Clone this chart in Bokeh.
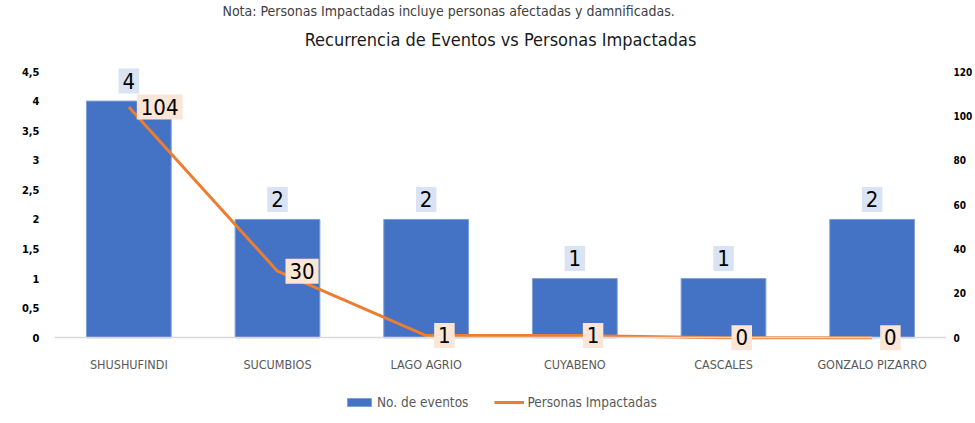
from bokeh.plotting import figure
from bokeh.models import (ColumnDataSource, FactorRange, Range1d, LinearAxis,
                          FixedTicker, LabelSet, Legend, LegendItem, Title)
from bokeh.core.properties import value
from bokeh.embed import file_html
from bokeh.resources import INLINE

municipios = ["SHUSHUFINDI", "SUCUMBIOS", "LAGO AGRIO", "CUYABENO", "CASCALES", "GONZALO PIZARRO"]
eventos = [4, 2, 2, 1, 1, 2]
personas = [104, 30, 1, 1, 0, 0]
left_ticks = [0, 0.5, 1, 1.5, 2, 2.5, 3, 3.5, 4, 4.5]
left_labels = ["0", "0,5", "1", "1,5", "2", "2,5", "3", "3,5", "4", "4,5"]
right_ticks = [0, 20, 40, 60, 80, 100, 120]

FONT = "DejaVu Sans Condensed"
BLUE = "#4472c4"
ORANGE = "#ed7d31"
PAD = "\u2009"

src = ColumnDataSource(dict(
    m=municipios, e=eventos, p=personas,
    e_txt=[PAD + str(v) + PAD for v in eventos],
    p_txt=[PAD + str(v) + PAD for v in personas],
))

LEFT_MAX = 4.5
RIGHT_MAX = 120
FRAME_H = 358
PX_PER_UNIT = 59.16
hi = 4.72
lo = hi - FRAME_H / PX_PER_UNIT
scale = RIGHT_MAX / LEFT_MAX

p = figure(x_range=FactorRange(*municipios), y_range=Range1d(lo, hi),
           frame_width=892, frame_height=FRAME_H,
           output_backend="svg", toolbar_location=None,
           min_border_left=54, min_border_right=4, min_border_top=56,
           min_border_bottom=0, outline_line_color=None,
           title="Nota:  Personas Impactadas incluye personas afectadas y damnificadas.")
p.title.align = "left"
p.title.offset = 168
p.title.text_font = FONT
p.title.text_font_size = "14px"
p.title.text_font_style = "normal"
p.title.text_color = "#404040"
p.title.standoff = 0

main_title = Title(text="Recurrencia de Eventos vs Personas Impactadas",
                   align="center", text_font=FONT, text_font_size="18px",
                   text_font_style="normal", text_color="#1a1a1a", standoff=17)
p.add_layout(main_title, "above")

p.xgrid.visible = False
p.ygrid.visible = False

ya = p.yaxis[0]
ya.ticker = FixedTicker(ticks=left_ticks)
ya.major_label_overrides = {t: l for t, l in zip(left_ticks, left_labels)}
ya.axis_line_color = None
ya.major_tick_line_color = None
ya.minor_tick_line_color = None
ya.major_label_standoff = 9
ya.major_label_text_font = FONT
ya.major_label_text_font_style = "bold"
ya.major_label_text_font_size = "11px"
ya.major_label_text_color = "#000000"

p.extra_y_ranges = {"right": Range1d(lo * scale, hi * scale)}
ra = LinearAxis(y_range_name="right", ticker=FixedTicker(ticks=right_ticks))
ra.axis_line_color = None
ra.major_tick_line_color = None
ra.minor_tick_line_color = None
ra.major_label_standoff = 1
ra.major_label_text_font = FONT
ra.major_label_text_font_style = "bold"
ra.major_label_text_font_size = "10px"
ra.major_label_text_color = "#000000"
p.add_layout(ra, "right")

xa = p.xaxis[0]
xa.fixed_location = 0
xa.axis_line_color = "#d9d9d9"
xa.axis_line_width = 1.5
xa.major_tick_line_color = None
xa.minor_tick_line_color = None
xa.major_label_standoff = 13
xa.major_label_text_font = FONT
xa.major_label_text_font_size = "12.5px"
xa.major_label_text_color = "#595959"

r_bar = p.vbar(x="m", top="e", width=0.57, source=src, fill_color=BLUE,
               line_color="#7f9fd8", line_width=1)
r_line = p.line(x="m", y="p", source=src, y_range_name="right",
                line_color=ORANGE, line_width=3)

bar_labels = LabelSet(x="m", y="e", text="e_txt", source=src,
                      text_align="center", text_baseline="middle", y_offset=20,
                      text_font=value(FONT), text_font_size=value("22px"),
                      text_color="#000000", background_fill_color="#dae3f3")
p.add_layout(bar_labels)

line_labels = LabelSet(x="m", y="p", text="p_txt", source=src, y_range_name="right",
                       text_align="left", text_baseline="middle", x_offset=8,
                       text_font=value(FONT), text_font_size=value("22px"),
                       text_color="#000000", background_fill_color="#fbe5d6")
p.add_layout(line_labels)

legend = Legend(items=[LegendItem(label="No. de eventos", renderers=[r_bar]),
                       LegendItem(label="Personas Impactadas", renderers=[r_line])],
                orientation="horizontal", location=(290, 6),
                label_text_font=FONT, label_text_font_size="13.5px",
                label_text_color="#595959", glyph_width=30, glyph_height=10,
                border_line_color=None, background_fill_alpha=0,
                spacing=26, label_standoff=3, margin=0, padding=5)
p.add_layout(legend)

open("out.html", "w").write(file_html(p, INLINE))
